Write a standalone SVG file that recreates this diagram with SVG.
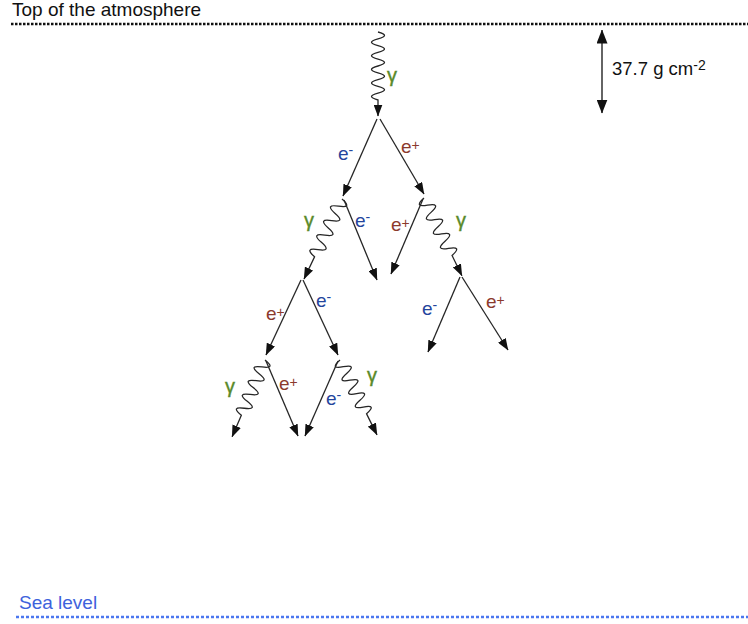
<svg xmlns="http://www.w3.org/2000/svg" width="748" height="624" viewBox="0 0 748 624">
<style>
  text { font-family: "Liberation Sans", Arial, sans-serif; }
  .title { font-size: 19px; fill: #111; }
  .sea { font-size: 19px; fill: #3d62dc; }
  .dim { font-size: 18.5px; fill: #111; }
  .lbl { font-size: 19px; }
  .em { fill: #24459c; }
  .ep { fill: #8c3a2c; }
  .ga { fill: #5a8a2a; font-size: 20px; stroke: #5a8a2a; stroke-width: 0.4; }
  .sup { font-size: 14px; }
  .ln { stroke: #262626; stroke-width: 1.3; fill: none; marker-end: url(#ah); }
  .wv { stroke: #262626; stroke-width: 1.3; fill: none; marker-end: url(#ah); }
</style>
<defs>
  <marker id="ah" markerUnits="userSpaceOnUse" viewBox="0 0 12 9" markerWidth="12" markerHeight="9" refX="11.5" refY="4.5" orient="auto">
    <path d="M0,0 L12,4.5 L0,9 z" fill="#111"/>
  </marker>
  <marker id="ah2" markerUnits="userSpaceOnUse" viewBox="0 0 14 11" markerWidth="14" markerHeight="11" refX="13.5" refY="5.5" orient="auto-start-reverse">
    <path d="M0,0 L14,5.5 L0,11 z" fill="#111"/>
  </marker>
</defs>

<g id="top-of-atmosphere">
  <text class="title" x="12" y="16">Top of the atmosphere</text>
  <line x1="11" y1="24" x2="748" y2="24" stroke="#111" stroke-width="2.5" stroke-dasharray="2.5 1.5"/>
</g>

<g id="sea-level">
  <text class="sea" x="19" y="609">Sea level</text>
  <line x1="16" y1="617" x2="748" y2="617" stroke="#4b77f0" stroke-width="2.5" stroke-dasharray="3 2"/>
</g>

<g id="depth-marker">
  <line x1="602" y1="30" x2="602" y2="113" stroke="#111" stroke-width="1.3" marker-start="url(#ah2)" marker-end="url(#ah2)"/>
  <text class="dim" x="612" y="75">37.7 g cm<tspan font-size="14" dy="-5">-2</tspan></text>
</g>

<g id="connectors">
  <!-- photons -->
  <g transform="translate(378,32) rotate(90)"><path class="wv" d="M0,0 c2.27,-8.7 4.53,-8.7 6.8,0 s4.53,8.7 6.8,0 s4.53,-8.7 6.8,0 s4.53,8.7 6.8,0 s4.53,-8.7 6.8,0 s4.53,8.7 6.8,0 s4.53,-8.7 6.8,0 s4.53,8.7 6.8,0 s4.53,-8.7 6.8,0 s4.53,8.7 6.8,0 L84,0"/></g>
  <g transform="translate(342,199) rotate(115.4)"><path class="wv" d="M0,0 c2.67,-9.3 5.33,-9.3 8,0 s5.33,9.3 8,0 s5.33,-9.3 8,0 s5.33,9.3 8,0 s5.33,-9.3 8,0 s5.33,9.3 8,0 s5.33,-9.3 8,0 s5.33,9.3 8,0 L88.5,0"/></g>
  <g transform="translate(424,198) rotate(64)"><path class="wv" d="M0,0 c2.67,9.3 5.33,9.3 8,0 s5.33,-9.3 8,0 s5.33,9.3 8,0 s5.33,-9.3 8,0 s5.33,9.3 8,0 s5.33,-9.3 8,0 s5.33,9.3 8,0 s5.33,-9.3 8,0 L86.5,0"/></g>
  <g transform="translate(265,360) rotate(113.2)"><path class="wv" d="M0,0 c2.5,-9.3 5,-9.3 7.5,0 s5,9.3 7.5,0 s5,-9.3 7.5,0 s5,9.3 7.5,0 s5,-9.3 7.5,0 s5,9.3 7.5,0 s5,-9.3 7.5,0 s5,9.3 7.5,0 L83.5,0"/></g>
  <g transform="translate(340,360) rotate(63.7)"><path class="wv" d="M0,0 c2.5,9.3 5,9.3 7.5,0 s5,-9.3 7.5,0 s5,9.3 7.5,0 s5,-9.3 7.5,0 s5,9.3 7.5,0 s5,-9.3 7.5,0 s5,9.3 7.5,0 s5,-9.3 7.5,0 L83.5,0"/></g>
  <!-- electrons / positrons -->
  <line class="ln" x1="377" y1="119" x2="343" y2="196"/>
  <line class="ln" x1="380" y1="119" x2="424" y2="194"/>
  <line class="ln" x1="344" y1="200" x2="377" y2="280"/>
  <line class="ln" x1="423" y1="199" x2="391" y2="274"/>
  <line class="ln" x1="301" y1="280" x2="266" y2="355"/>
  <line class="ln" x1="303" y1="280" x2="338" y2="355"/>
  <line class="ln" x1="460" y1="277" x2="428" y2="352"/>
  <line class="ln" x1="462" y1="277" x2="508" y2="350"/>
  <line class="ln" x1="266" y1="361" x2="298" y2="436"/>
  <line class="ln" x1="338" y1="361" x2="305" y2="436"/>
</g>

<g id="labels">
  <text class="lbl ga" x="387" y="82">γ</text>
  <text class="lbl em" x="338" y="160">e<tspan class="sup" dy="-5">-</tspan></text>
  <text class="lbl ep" x="401" y="153">e<tspan class="sup" dy="-3">+</tspan></text>
  <text class="lbl ga" x="304" y="227">γ</text>
  <text class="lbl em" x="355" y="227">e<tspan class="sup" dy="-5">-</tspan></text>
  <text class="lbl ep" x="391" y="231">e<tspan class="sup" dy="-3">+</tspan></text>
  <text class="lbl ga" x="456" y="227">γ</text>
  <text class="lbl ep" x="266" y="320">e<tspan class="sup" dy="-3">+</tspan></text>
  <text class="lbl em" x="316" y="307">e<tspan class="sup" dy="-5">-</tspan></text>
  <text class="lbl em" x="422" y="315">e<tspan class="sup" dy="-5">-</tspan></text>
  <text class="lbl ep" x="486" y="308">e<tspan class="sup" dy="-3">+</tspan></text>
  <text class="lbl ga" x="225" y="393">γ</text>
  <text class="lbl ep" x="279" y="390">e<tspan class="sup" dy="-3">+</tspan></text>
  <text class="lbl em" x="326" y="405">e<tspan class="sup" dy="-5">-</tspan></text>
  <text class="lbl ga" x="367" y="382">γ</text>
</g>
</svg>
